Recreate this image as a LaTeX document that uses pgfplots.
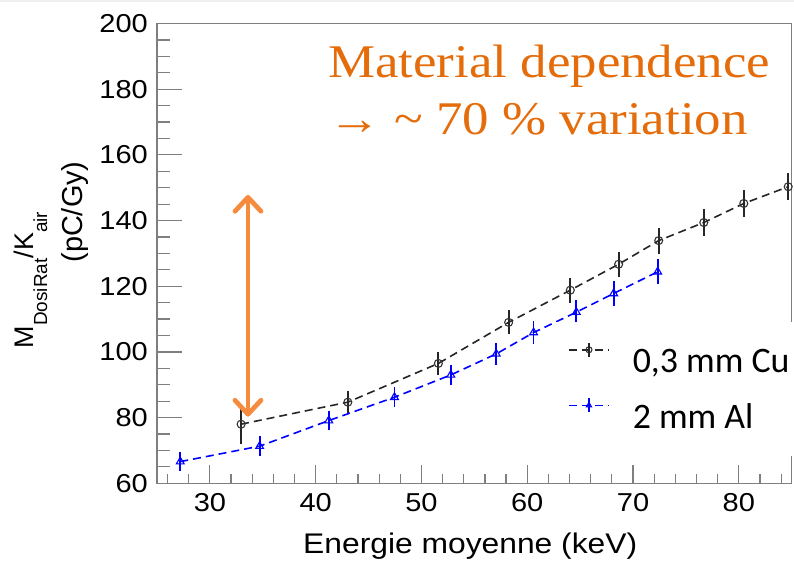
\documentclass[border=0pt]{standalone}
\usepackage{fontspec}
\setmainfont{Liberation Sans}
\newfontfamily\tickfont{Liberation Sans}[FakeStretch=1.12]
\newfontfamily\notefont{Liberation Serif}[FakeStretch=1.13]
\newfontfamily\legfont{Carlito}
\usepackage{pgfplots}
\usepackage{pgfplotstable}
\pgfplotsset{compat=1.18}
\usetikzlibrary{arrows.meta}
\definecolor{noteorange}{HTML}{E46C0A}
\definecolor{arroworange}{HTML}{F68B3D}
\definecolor{axisgray}{HTML}{7F7F7F}

% 0,3 mm Cu
\pgfplotstableread{
x     y     err
32.95 78.0  5.4
43.04 84.7  2.7
51.6  96.5  2.9
58.24 109.0 3.0
64.07 118.8 3.1
68.64 126.7 3.2
72.43 133.9 3.3
76.69 139.4 3.3
80.47 145.2 3.4
84.67 150.3 3.4
}\cudata

% 2 mm Al
\pgfplotstableread{
x     y     err
27.2  66.6  2.3
34.7  71.3  2.4
41.24 79.1  2.2
47.45 86.2  2.3
52.78 93.0  2.3
57.07 99.4  2.6
60.6  105.9 2.7
64.64 112.1 2.9
68.17 117.8 3.0
72.33 124.4 3.2
}\aldata

\pgfplotsset{
  frame/.style={
    at={(157bp,77.7bp)}, anchor=south west,
    scale only axis, width=634.7bp, height=459.8bp,
    xmin=25, xmax=85, ymin=60, ymax=200,
    tick align=inside, xtick pos=bottom, ytick pos=left,
    axis line style={axisgray, line width=1.2bp},
    tick style={axisgray, line width=1.2bp},
    /pgf/number format/assume math mode=true,
    ticklabel style={font=\tickfont\fontsize{26}{30}\selectfont},
  },
}

\begin{document}
\begin{tikzpicture}
\path[use as bounding box] (0bp,0bp) rectangle (794bp,561bp);
\fill[black!6] (0bp,559bp) rectangle (794bp,561bp);

% x ticks (shorter than the y ticks)
\begin{axis}[frame,
  xtick={20,30,...,90}, ytick=\empty, minor x tick num=4,
  major tick length=18bp, minor tick length=9bp,
  xticklabel style={anchor=north, inner sep=0pt, yshift=-10bp},
  xlabel={Energie moyenne (keV)},
  xlabel style={font=\tickfont\fontsize{28.5}{32}\selectfont,
    at={(axis description cs:0.4935,0)}, anchor=base, yshift=-69.7bp, inner sep=0pt},
]
\end{axis}

\begin{axis}[frame,
  xtick=\empty, ytick={60,80,...,200}, minor y tick num=3,
  major tick length=25bp, minor tick length=13bp,
  yticklabel style={anchor=east, inner sep=0pt, xshift=-9bp},
  legend image code/.code={
    \draw[mark repeat=2, mark phase=2, #1, mark size=3bp]
      plot coordinates {(0bp,14bp) (20bp,14bp) (40bp,14bp)};
    \draw[#1, solid, mark=none, line width=1.3bp] (20bp,7bp) -- (20bp,21bp);
  },
  legend style={at={(rel axis cs:0.627,0.351)}, anchor=north west,
    draw=none, fill=white, inner xsep=13bp, inner ysep=20bp,
    row sep=17bp, column sep=23bp,
    font=\legfont\fontsize{36}{40}\selectfont,
    nodes={inner sep=0pt, text height=26bp, text depth=8bp}},
  legend cell align=left,
]
\addplot[black!85, line width=1.6bp, dash pattern=on 8bp off 5bp,
  mark=o, mark size=4bp, mark options={solid, line width=1.1bp, black!80},
  error bars/.cd, y dir=both, y explicit, error mark=-,
  error mark options={solid, mark size=2.2bp, line width=1.8bp, black!85},
  error bar style={solid, line width=1.8bp, black!85}]
  table[x=x, y=y, y error=err] {\cudata};
\addlegendentry{0,3 mm Cu}

\addplot[blue, line width=1.6bp, dash pattern=on 8bp off 5bp,
  mark=triangle, mark size=4.5bp, mark options={solid, line width=1.1bp, blue},
  error bars/.cd, y dir=both, y explicit, error mark=-,
  error mark options={solid, mark size=2.2bp, line width=1.8bp, blue},
  error bar style={solid, line width=1.8bp, blue}]
  table[x=x, y=y, y error=err] {\aldata};
\addlegendentry{2 mm Al}

\draw[arroworange, line width=4.7bp,
  {Straight Barb[length=14bp, width=26bp, line cap=round, line join=round]}-{Straight Barb[length=14bp, width=26bp, line cap=round, line join=round]}]
  (axis cs:33.6,80.3) -- (axis cs:33.6,147.8);
\end{axis}

% y axis title, two lines
\node[rotate=90, anchor=base, inner sep=0pt, font=\fontsize{27}{30}\selectfont]
  at (33bp,281bp)
  {M\raisebox{-14bp}{\fontsize{19}{20}\selectfont DosiRat}/K\raisebox{-14bp}{\fontsize{19}{20}\selectfont air}};
\node[rotate=90, anchor=base, inner sep=0pt, font=\fontsize{29}{32}\selectfont]
  at (82bp,349bp) {(pC/Gy)};

% annotation
\node[anchor=base west, inner sep=0pt, text=noteorange, font=\notefont\fontsize{47}{50}\selectfont]
  at (328bp,483bp) {Material dependence};
\node[anchor=base west, inner sep=0pt, text=noteorange, font=\notefont\fontsize{47}{50}\selectfont]
  at (328bp,426bp) {→ \textasciitilde{} 70 \% variation};
\end{tikzpicture}
\end{document}
